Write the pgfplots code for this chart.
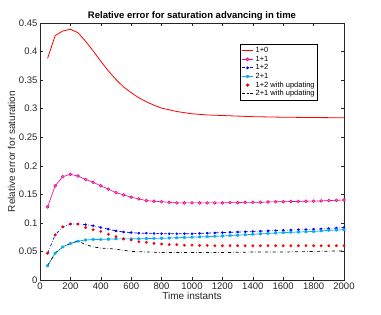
\documentclass[border=0pt]{standalone}
\usepackage{pgfplots}
\pgfplotsset{compat=1.18}
\usepackage{fontspec}
\setmainfont{Liberation Sans}
\definecolor{mgray}{rgb}{0.15,0.15,0.15}
\begin{document}
\begin{tikzpicture}
\begin{axis}[
  at={(0pt,0pt)}, anchor=south west,
  scale only axis, width=304pt, height=257pt,
  xmin=0, xmax=2000, ymin=0, ymax=0.45,
  xtick={0,200,400,600,800,1000,1200,1400,1600,1800,2000},
  xticklabels={0,200,400,600,800,1000,1200,1400,1600,1800,2000},
  ytick={0,0.05,0.1,0.15,0.2,0.25,0.3,0.35,0.4,0.45},
  yticklabels={0,0.05,0.1,0.15,0.2,0.25,0.3,0.35,0.4,0.45},
  tick align=inside, tick pos=both,
  major tick length=3pt,
  ticklabel style={font=\fontsize{9.5}{10}\selectfont, text=mgray},
  xticklabel style={yshift=1pt}, yticklabel style={xshift=1pt},
  axis line style={mgray, line width=0.8pt},
  every tick/.style={mgray, line width=0.5pt},
  title={\textbf{Relative error for saturation advancing in time}},
  title style={font=\fontsize{9.5}{10}\selectfont, yshift=-7pt},
  xlabel={Time instants}, ylabel={Relative error for saturation},
  label style={font=\fontsize{10}{11}\selectfont, text=mgray},
  xlabel style={yshift=4pt}, ylabel style={yshift=-3pt},
  legend style={at={(0.658,0.918)}, anchor=north west, font=\fontsize{7.5}{8}\selectfont,
    line width=0.9pt, inner sep=1pt, row sep=-2.2pt, cells={anchor=west}},
  legend image code/.code={\draw[mark repeat=2, mark phase=2, line width=0.8pt, #1] plot coordinates {(0cm,0cm) (0.2cm,0cm) (0.4cm,0cm)};},
]
\addplot[red, line width=0.8pt] coordinates {
(50,0.388)(100,0.428)(150,0.436)(200,0.439)(250,0.433)(300,0.418)(350,0.401)(400,0.383)(450,0.366)(500,0.351)(550,0.338)(600,0.328)(650,0.319)(700,0.312)(750,0.306)(800,0.301)(850,0.298)(900,0.295)(950,0.293)(1000,0.291)(1100,0.289)(1200,0.288)(1300,0.287)(1400,0.286)(1500,0.2855)(1600,0.285)(1800,0.2845)(2000,0.284)};
\addlegendentry{1+0}
\addplot[magenta, line width=0.6pt, mark=*, mark size=1.4pt, mark options={fill=magenta!45}] coordinates {
(50,0.128)(100,0.165)(150,0.181)(200,0.185)(250,0.182)(300,0.176)(350,0.171)(400,0.165)(450,0.159)(500,0.153)(550,0.149)(600,0.145)(650,0.142)(700,0.139)(750,0.138)(800,0.137)(850,0.136)(900,0.135)(950,0.135)(1000,0.135)(1050,0.135)(1100,0.135)(1150,0.135)(1200,0.135)(1250,0.1355)(1300,0.1355)(1350,0.136)(1400,0.136)(1450,0.136)(1500,0.1365)(1550,0.137)(1600,0.137)(1650,0.1375)(1700,0.1375)(1750,0.138)(1800,0.138)(1850,0.1385)(1900,0.139)(1950,0.1395)(2000,0.140)};
\addlegendentry{1+1}
\addplot[blue, dashdotted, line width=0.7pt, mark=*, mark size=0.9pt, mark options={solid}] coordinates {
(50,0.047)(100,0.079)(150,0.093)(200,0.098)(250,0.098)(300,0.097)(350,0.095)(400,0.092)(450,0.089)(500,0.086)(550,0.084)(600,0.083)(650,0.082)(700,0.082)(750,0.0815)(800,0.081)(850,0.081)(900,0.081)(950,0.081)(1000,0.081)(1050,0.0815)(1100,0.082)(1150,0.0825)(1200,0.083)(1250,0.0835)(1300,0.084)(1350,0.0845)(1400,0.085)(1450,0.0855)(1500,0.086)(1550,0.0865)(1600,0.087)(1650,0.0875)(1700,0.088)(1750,0.0885)(1800,0.089)(1850,0.0895)(1900,0.090)(1950,0.091)(2000,0.092)};
\addlegendentry{1+2}
\addplot[cyan, line width=0.7pt, mark=asterisk, mark size=1.6pt, mark options={line width=0.9pt}] coordinates {
(50,0.025)(100,0.047)(150,0.058)(200,0.064)(250,0.068)(300,0.070)(350,0.071)(400,0.071)(450,0.0715)(500,0.072)(550,0.072)(600,0.072)(650,0.0722)(700,0.0725)(750,0.0728)(800,0.073)(850,0.0735)(900,0.074)(950,0.0745)(1000,0.075)(1050,0.0755)(1100,0.076)(1150,0.0765)(1200,0.077)(1250,0.0778)(1300,0.0785)(1350,0.0792)(1400,0.080)(1450,0.0808)(1500,0.0815)(1550,0.0822)(1600,0.083)(1650,0.0835)(1700,0.084)(1750,0.0845)(1800,0.085)(1850,0.086)(1900,0.087)(1950,0.0875)(2000,0.088)};
\addlegendentry{2+1}
\addplot[red, only marks, mark=*, mark size=1.2pt] coordinates {
(50,0.047)(100,0.079)(150,0.093)(200,0.098)(250,0.098)(300,0.092)(350,0.088)(400,0.085)(450,0.080)(500,0.076)(550,0.072)(600,0.070)(650,0.067)(700,0.066)(750,0.064)(800,0.063)(850,0.062)(900,0.062)(950,0.061)(1000,0.061)(1050,0.0605)(1100,0.0605)(1150,0.060)(1200,0.060)(1250,0.060)(1300,0.060)(1350,0.060)(1400,0.060)(1450,0.060)(1500,0.060)(1550,0.060)(1600,0.060)(1650,0.060)(1700,0.060)(1750,0.060)(1800,0.060)(1850,0.060)(1900,0.060)(1950,0.060)(2000,0.060)};
\addlegendentry{1+2 with updating}
\addplot[black, dashdotted, line width=0.7pt] coordinates {
(50,0.025)(100,0.047)(150,0.058)(200,0.064)(250,0.068)(300,0.062)(350,0.058)(400,0.056)(450,0.055)(500,0.054)(550,0.052)(600,0.050)(650,0.0495)(700,0.049)(750,0.0485)(800,0.048)(900,0.048)(1000,0.048)(1100,0.048)(1200,0.048)(1300,0.0485)(1400,0.049)(1500,0.049)(1600,0.049)(1700,0.0495)(1800,0.050)(1900,0.0505)(2000,0.051)};
\addlegendentry{2+1 with updating}
\end{axis}
\pgfresetboundingbox
\path[use as bounding box] (-40pt,-35pt) rectangle (341pt,280pt);
\end{tikzpicture}
\end{document}
